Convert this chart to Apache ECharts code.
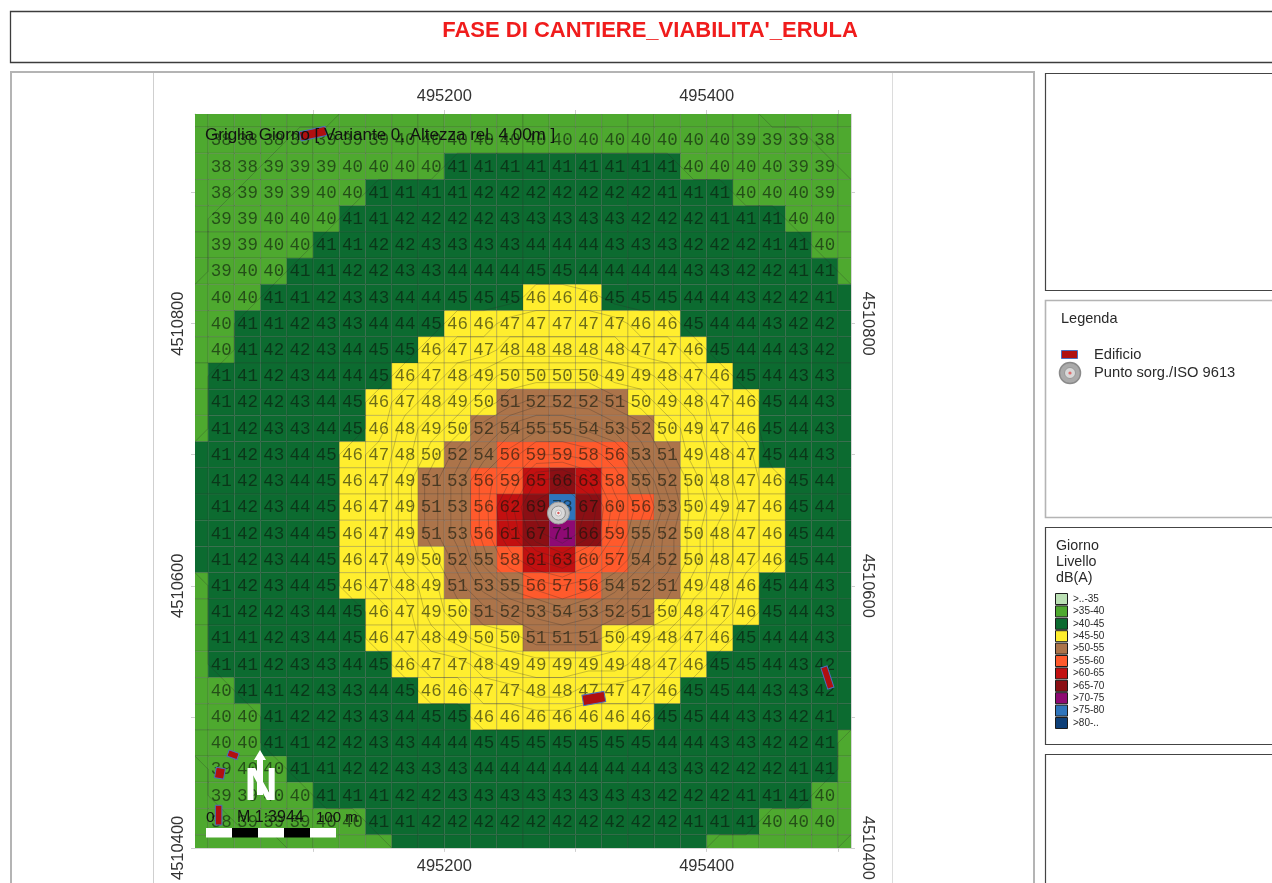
<!DOCTYPE html>
<html>
<head>
<meta charset="utf-8">
<title>FASE DI CANTIERE_VIABILITA'_ERULA</title>
<script src="https://cdn.jsdelivr.net/npm/echarts@6/dist/echarts.min.js"></script>
<style>
  html, body { margin: 0; padding: 0; background: #fff; overflow: hidden; }
  #chart { width: 1272px; height: 883px; filter: blur(0.7px); }
</style>
</head>
<body>
<div id="chart"></div>
<script>
// grid noise levels in dB(A), top row first, one cell every 20 m
const noiseRows = [
  [38,38,38,39,39,39,39,40,40,40,40,40,40,40,40,40,40,40,40,40,39,39,39,38],
  [38,38,39,39,39,40,40,40,40,41,41,41,41,41,41,41,41,41,40,40,40,40,39,39],
  [38,39,39,39,40,40,41,41,41,41,42,42,42,42,42,42,42,41,41,41,40,40,40,39],
  [39,39,40,40,40,41,41,42,42,42,42,43,43,43,43,43,42,42,42,41,41,41,40,40],
  [39,39,40,40,41,41,42,42,43,43,43,43,44,44,44,43,43,43,42,42,42,41,41,40],
  [39,40,40,41,41,42,42,43,43,44,44,44,45,45,44,44,44,44,43,43,42,42,41,41],
  [40,40,41,41,42,43,43,44,44,45,45,45,46,46,46,45,45,45,44,44,43,42,42,41],
  [40,41,41,42,43,43,44,44,45,46,46,47,47,47,47,47,46,46,45,44,44,43,42,42],
  [40,41,42,42,43,44,45,45,46,47,47,48,48,48,48,48,47,47,46,45,44,44,43,42],
  [41,41,42,43,44,44,45,46,47,48,49,50,50,50,50,49,49,48,47,46,45,44,43,43],
  [41,42,42,43,44,45,46,47,48,49,50,51,52,52,52,51,50,49,48,47,46,45,44,43],
  [41,42,43,43,44,45,46,48,49,50,52,54,55,55,54,53,52,50,49,47,46,45,44,43],
  [41,42,43,44,45,46,47,48,50,52,54,56,59,59,58,56,53,51,49,48,47,45,44,43],
  [41,42,43,44,45,46,47,49,51,53,56,59,65,66,63,58,55,52,50,48,47,46,45,44],
  [41,42,43,44,45,46,47,49,51,53,56,62,69,78,67,60,56,53,50,49,47,46,45,44],
  [41,42,43,44,45,46,47,49,51,53,56,61,67,71,66,59,55,52,50,48,47,46,45,44],
  [41,42,43,44,45,46,47,49,50,52,55,58,61,63,60,57,54,52,50,48,47,46,45,44],
  [41,42,43,44,45,46,47,48,49,51,53,55,56,57,56,54,52,51,49,48,46,45,44,43],
  [41,42,42,43,44,45,46,47,49,50,51,52,53,54,53,52,51,50,48,47,46,45,44,43],
  [41,41,42,43,44,45,46,47,48,49,50,50,51,51,51,50,49,48,47,46,45,44,44,43],
  [41,41,42,43,43,44,45,46,47,47,48,49,49,49,49,49,48,47,46,45,45,44,43,42],
  [40,41,41,42,43,43,44,45,46,46,47,47,48,48,47,47,47,46,45,45,44,43,43,42],
  [40,40,41,42,42,43,43,44,45,45,46,46,46,46,46,46,46,45,45,44,43,43,42,41],
  [40,40,41,41,42,42,43,43,44,44,45,45,45,45,45,45,45,44,44,43,43,42,42,41],
  [39,40,40,41,41,42,42,43,43,43,44,44,44,44,44,44,44,43,43,42,42,42,41,41],
  [39,39,40,40,41,41,41,42,42,43,43,43,43,43,43,43,43,42,42,42,41,41,41,40],
  [38,39,39,39,40,40,41,41,42,42,42,42,42,42,42,42,42,42,41,41,41,40,40,40]
]
// half cells round the labelled grid, colour only
const leftEdge = [38,37,37,38,38,38,39,39,39,40,40,40,41,41,41,41,41,40,40,40,40,40,39,39,38,38,37]
const rightEdge = [38,38,39,39,40,40,41,41,42,42,42,42,43,43,43,43,43,43,42,42,42,41,41,40,40,40,39]
const topEdge = [37,37,37,38,38,38,39,39,39,39,39,40,40,40,40,40,40,40,39,39,39,39,38,38,38,37]
const bottomEdge = [37,37,38,38,39,39,40,40,41,41,41,41,41,41,41,41,41,41,41,41,40,40,40,39,39,38]

const classLabels = ['>..-35','>35-40','>40-45','>45-50','>50-55','>55-60','>60-65','>65-70','>70-75','>75-80','>80-..']
const classLimits = [35,40,45,50,55,60,65,70,75,80,Infinity]
const classColors = ['#bbe0b4','#4ea92f','#0c6b30','#ffee2e','#ac744a','#ff5a2c','#c21010','#8b0f14','#8e0a73','#2e74bb','#0d3f78']

const contourLevels = [38.5,40.5,45.5,46.5,47.5,48.5,49.5,50.5,51.5,52.5,53.5,54.5,55.5,57,59,61,63,65,68]

const xTicks = [495100,495200,495300,495400,495500]
const yTicks = [4510400,4510500,4510600,4510700,4510800,4510900]
const xLabels = [495200,495400]
const yLabels = [4510400,4510600,4510800]

// buildings: centre (m), length and width (m), angle (deg)
const buildingX = [495100,495314,495492,495039,495029,495028]
const buildingY = [4510945,4510514,4510530,4510471,4510457,4510425]
const buildingLen = [20,17,17,8,7,15]
const buildingWid = [7,8,5,5,8,5]
const buildingAngle = [12,10,-72,-20,-10,90]

const sourceX = [495287]
const sourceY = [4510655.5]

const X0 = 495010
const Y1 = 4510960
const STEP = 20

// full matrix with the edge cells
const cols = noiseRows[0].length + 2
const matrix = [topEdge]
noiseRows.forEach((row, i) => matrix.push([leftEdge[i], ...row, rightEdge[i]]))
matrix.push(bottomEdge)

const colX = c => X0 + c * STEP
const rowY = r => Y1 - r * STEP
const classIndex = v => classLimits.findIndex(l => v <= l)

const cellData = []
const labelData = []
matrix.forEach((row, r) => {
  row.forEach((v, c) => {
    cellData.push([colX(c), rowY(r), v])
    if (r > 0 && r < matrix.length - 1 && c > 0 && c < cols - 1) {
      labelData.push([colX(c), rowY(r), v])
    }
  })
})

// iso lines traced on the grid values
function contourSegments(level) {
  const segs = []
  for (let r = 0; r < matrix.length - 1; r++) {
    for (let c = 0; c < cols - 1; c++) {
      const a = matrix[r][c], b = matrix[r][c + 1], d = matrix[r + 1][c + 1], e = matrix[r + 1][c]
      const pts = []
      const cross = (v1, v2, x1, y1, x2, y2) => {
        if ((v1 < level) !== (v2 < level)) {
          const t = (level - v1) / (v2 - v1)
          pts.push([x1 + (x2 - x1) * t, y1 + (y2 - y1) * t])
        }
      }
      cross(a, b, colX(c), rowY(r), colX(c + 1), rowY(r))
      cross(b, d, colX(c + 1), rowY(r), colX(c + 1), rowY(r + 1))
      cross(d, e, colX(c + 1), rowY(r + 1), colX(c), rowY(r + 1))
      cross(e, a, colX(c), rowY(r + 1), colX(c), rowY(r))
      for (let k = 0; k + 1 < pts.length; k += 2) {
        segs.push([pts[k][0], pts[k][1], pts[k + 1][0], pts[k + 1][1]])
      }
    }
  }
  return segs
}
const contourData = contourLevels.flatMap(contourSegments)

const buildingData = buildingX.map((x, i) => [x, buildingY[i], buildingLen[i], buildingWid[i], buildingAngle[i]])
const sourceData = sourceX.map((x, i) => [x, sourceY[i]])

// page frames and overlays
const frame = (x, y, w, h, color, lw) => ({
  type: 'rect', shape: { x, y, width: w, height: h }, silent: true,
  style: { fill: 'none', stroke: color, lineWidth: lw }
})
const vline = (x, y1, y2, color) => ({
  type: 'line', shape: { x1: x, y1, x2: x, y2 }, silent: true,
  style: { stroke: color, lineWidth: 1 }
})
const label = (text, x, y, size, extra) => ({
  type: 'text', z: 100, silent: true,
  style: Object.assign({ text, x, y, fill: '#2a2a2a', font: size + 'px "Liberation Sans", Arial, sans-serif', textVerticalAlign: 'middle', verticalAlign: 'middle' }, extra)
})

const graphics = [
  frame(10.5, 11.5, 1300, 51, '#3c3c3c', 1.3),
  frame(11, 72, 1023, 840, '#b4b4b4', 2),
  vline(153.5, 73, 883, '#cfcfcf'),
  vline(892.5, 73, 883, '#dcdcdc'),
  frame(1045.5, 73.5, 300, 217, '#444', 1.2),
  frame(1045.5, 300.5, 300, 217, '#b4b4b4', 1.6),
  frame(1045.5, 527.5, 300, 217, '#444', 1.2),
  frame(1045.5, 754.5, 300, 217, '#444', 1.2),

  label('Griglia Giorno [ Variante 0, Altezza rel. 4.00m ]', 205, 135, 17, { fill: '#111' }),

  // north arrow
  {
    type: 'polygon', z: 100, silent: true,
    shape: { points: [[260, 750], [266, 760], [263, 760], [263, 795], [257, 795], [257, 760], [254, 760]] },
    style: { fill: '#fff' }
  },
  label('N', 261, 787, 46, { fill: '#fff', font: 'bold 46px "Liberation Sans", Arial, sans-serif', align: 'center' }),

  // scale bar
  ...['#fff', '#000', '#fff', '#000', '#fff'].map((color, i) => ({
    type: 'rect', z: 100, silent: true,
    shape: { x: 206 + i * 26, y: 828, width: 26, height: 9.5 },
    style: { fill: color }
  })),
  label('0', 206, 818, 15.5, { fill: '#111' }),
  label('M 1:3944', 237, 818, 16, { fill: '#111' }),
  label('100 m', 316, 818, 15, { fill: '#111' }),

  // legend
  label('Legenda', 1061, 318.5, 14.5),
  {
    type: 'rect', silent: true,
    shape: { x: 1061.5, y: 350.5, width: 16, height: 8 },
    style: { fill: '#b01010', stroke: '#4a6fc0', lineWidth: 1 }
  },
  { type: 'circle', silent: true, shape: { cx: 1070, cy: 373, r: 10.5 }, style: { fill: '#aaa', stroke: '#8a8a8a', lineWidth: 1.5 } },
  { type: 'circle', silent: true, shape: { cx: 1070, cy: 373, r: 5.5 }, style: { fill: '#d8d8d8', stroke: '#999', lineWidth: 1 } },
  { type: 'circle', silent: true, shape: { cx: 1070, cy: 373, r: 1.6 }, style: { fill: '#e06a6a' } },
  label('Edificio', 1094, 354.5, 14.7),
  label('Punto sorg./ISO 9613', 1094, 372.5, 14.7),

  label('Giorno', 1056, 546.5, 14.3),
  label('Livello', 1056, 562.5, 14.3),
  label('dB(A)', 1056, 578.5, 14.3),
  ...classLabels.flatMap((text, i) => [
    {
      type: 'rect', silent: true,
      shape: { x: 1055.5, y: 593.5 + i * 12.4, width: 12, height: 11 },
      style: { fill: classColors[i], stroke: '#1c1c1c', lineWidth: 1 }
    },
    label(text, 1073, 599 + i * 12.4, 10)
  ])
]

const axisText = { color: '#333', fontSize: 16.5, fontFamily: '"Liberation Sans", Arial, sans-serif' }
const tickStyle = { length: 4, lineStyle: { color: '#cfcfcf', width: 1 } }

const makeXAxis = (position, margin) => ({
  type: 'value', position, min: X0, max: X0 + 500, scale: true,
  axisLine: { show: true, lineStyle: { color: '#d6d6d6', width: 1 } },
  axisTick: { show: true, customValues: xTicks, ...tickStyle },
  axisLabel: { show: true, customValues: xLabels, margin, formatter: v => String(v), ...axisText },
  splitLine: { show: false }
})
const makeYAxis = (position, rotate) => ({
  type: 'value', position, min: 4510400, max: Y1, scale: true,
  axisLine: { show: true, lineStyle: { color: '#d6d6d6', width: 1 } },
  axisTick: { show: true, customValues: yTicks, ...tickStyle },
  axisLabel: { show: true, customValues: yLabels, rotate, margin: 8, formatter: v => String(v), ...axisText },
  splitLine: { show: false }
})

const chart = echarts.init(document.getElementById('chart'))

chart.setOption({
  animation: false,
  backgroundColor: '#fff',
  title: {
    text: "FASE DI CANTIERE_VIABILITA'_ERULA",
    left: 645, top: 15, textAlign: 'center',
    textStyle: { color: '#f01c1c', fontSize: 22, fontWeight: 'bold', fontFamily: '"Liberation Sans", Arial, sans-serif' }
  },
  grid: { left: 195, top: 114, width: 656, height: 734 },
  xAxis: [makeXAxis('bottom', 10), makeXAxis('top', 9)],
  yAxis: [makeYAxis('left', 90), makeYAxis('right', -90)],
  graphic: graphics,
  series: [
    {
      // coloured cells
      type: 'custom', silent: true, clip: true, z: 2,
      data: cellData,
      renderItem(params, api) {
        const p1 = api.coord([api.value(0) - STEP / 2, api.value(1) + STEP / 2])
        const p2 = api.coord([api.value(0) + STEP / 2, api.value(1) - STEP / 2])
        return {
          type: 'rect',
          shape: { x: p1[0], y: p1[1], width: p2[0] - p1[0], height: p2[1] - p1[1] },
          style: { fill: classColors[classIndex(api.value(2))], stroke: 'rgba(50,50,50,0.28)', lineWidth: 0.8 }
        }
      }
    },
    {
      // iso lines
      type: 'custom', silent: true, clip: true, z: 3,
      data: contourData,
      renderItem(params, api) {
        const p1 = api.coord([api.value(0), api.value(1)])
        const p2 = api.coord([api.value(2), api.value(3)])
        return {
          type: 'line',
          shape: { x1: p1[0], y1: p1[1], x2: p2[0], y2: p2[1] },
          style: { stroke: 'rgba(40,40,40,0.32)', lineWidth: 0.8 }
        }
      }
    },
    {
      // values in the cells
      type: 'custom', silent: true, clip: true, z: 4,
      data: labelData,
      renderItem(params, api) {
        const p = api.coord([api.value(0), api.value(1)])
        return {
          type: 'text',
          style: {
            text: String(api.value(2)), x: p[0], y: p[1] + 0.5,
            align: 'center', verticalAlign: 'middle',
            fill: 'rgba(10,20,10,0.6)',
            font: '17.5px "Liberation Mono", monospace'
          }
        }
      }
    },
    {
      // buildings
      type: 'custom', silent: true, clip: false, z: 5,
      data: buildingData,
      renderItem(params, api) {
        const p = api.coord([api.value(0), api.value(1)])
        const size = api.size([api.value(2), api.value(3)])
        return {
          type: 'rect',
          x: p[0], y: p[1],
          rotation: api.value(4) * Math.PI / 180,
          shape: { x: -size[0] / 2, y: -size[1] / 2, width: size[0], height: size[1] },
          style: { fill: '#b01010', stroke: '#4a6fc0', lineWidth: 1 }
        }
      }
    },
    {
      // source point
      type: 'custom', silent: true, clip: false, z: 6,
      data: sourceData,
      renderItem(params, api) {
        const p = api.coord([api.value(0), api.value(1)])
        const ring = (r, fill, stroke) => ({
          type: 'circle',
          shape: { cx: p[0], cy: p[1], r },
          style: { fill, stroke, lineWidth: 1 }
        })
        return {
          type: 'group',
          children: [
            ring(11, '#c2c2c2', '#9a9a9a'),
            ring(7, '#d9d9d9', '#8e8e8e'),
            ring(3, '#f2f2f2', '#bbb'),
            ring(1.2, '#d85a5a', 'none')
          ]
        }
      }
    }
  ]
})
</script>
</body>
</html>
